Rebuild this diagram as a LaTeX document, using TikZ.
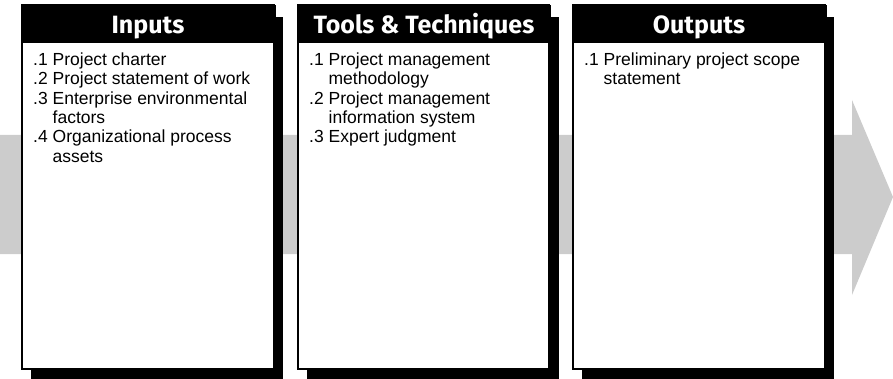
\documentclass[tikz,border=0pt]{standalone}
\usepackage{fontspec}
\setmainfont{Liberation Sans}
\newfontfamily\headfont{Fira Sans}
\definecolor{arrowgray}{HTML}{CCCCCC}
\newcommand{\ind}{\phantom{.1 }}
\begin{document}
\begin{tikzpicture}[x=1pt,y=-1pt,
  shadowbox/.style={fill=black},
  bodybox/.style={draw=black, line width=1.2pt, fill=white},
  headbar/.style={fill=black},
  headtext/.style={anchor=base, text=white, font=\headfont\bfseries\fontsize{25}{28}\selectfont, inner sep=0pt},
  itemtext/.style={anchor=north west, align=left, inner sep=0pt, font=\fontsize{17.5}{19.4}\selectfont}]
\useasboundingbox (0,0) rectangle (893,379);
% process arrow
\fill[arrowgray] (0,135) -- (852,135) -- (852,100) -- (893,197) -- (852,295) -- (852,254) -- (0,254) -- cycle;
% panel 1
\fill[shadowbox] (31,17) rectangle (283,379);
\draw[bodybox] (22,5) rectangle (274,369);
\fill[headbar] (22,5) rectangle (276,43);
\node[headtext] (h1) at (148,33.5) {Inputs};
\node[itemtext] (t1) at (33,52.5) {.1 Project charter\\
.2 Project statement of work\\
.3 Enterprise environmental\\
\ind factors\\
.4 Organizational process\\
\ind assets};
% panel 2
\fill[shadowbox] (307,17) rectangle (559,379);
\draw[bodybox] (298,5) rectangle (549,369);
\fill[headbar] (298,5) rectangle (551,43);
\node[headtext] (h2) at (424,33.5) {Tools \& Techniques};
\node[itemtext] (t2) at (309,52.5) {.1 Project management\\
\ind methodology\\
.2 Project management\\
\ind information system\\
.3 Expert judgment};
% panel 3
\fill[shadowbox] (582,17) rectangle (834,379);
\draw[bodybox] (573,5) rectangle (825,369);
\fill[headbar] (573,5) rectangle (827,43);
\node[headtext] (h3) at (699,33.5) {Outputs};
\node[itemtext] (t3) at (584,52.5) {.1 Preliminary project scope\\
\ind statement};
\end{tikzpicture}
\end{document}
